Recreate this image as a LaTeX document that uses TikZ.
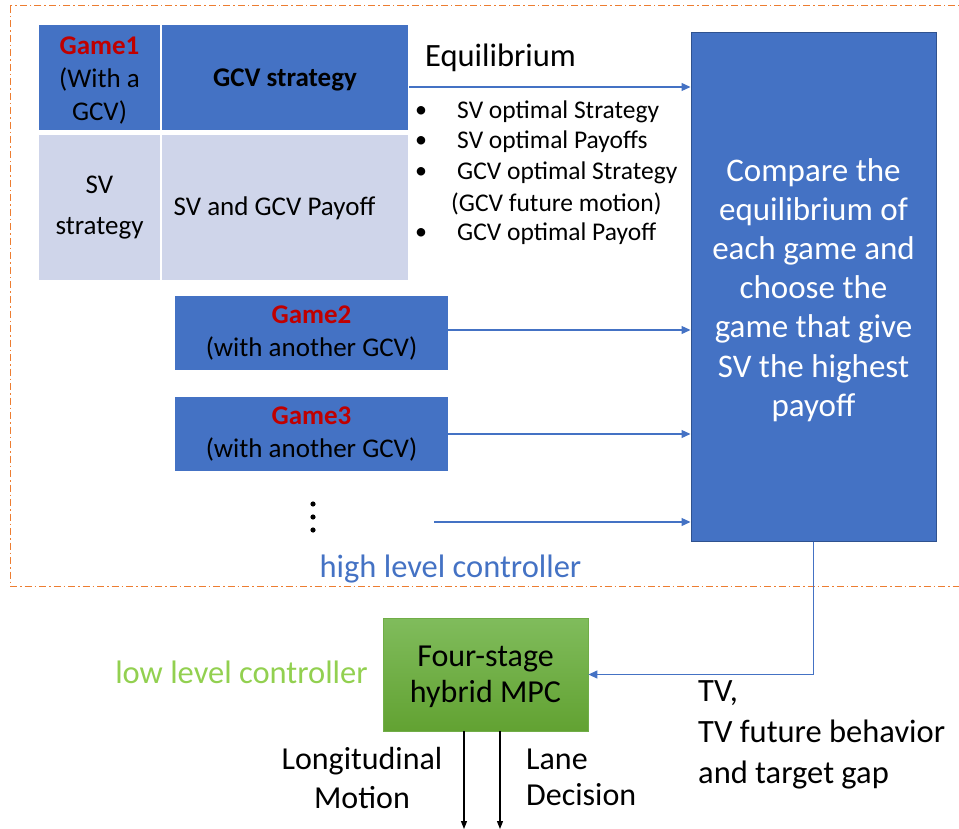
\documentclass[tikz,border=0pt]{standalone}
\usepackage{fontspec}
\setmainfont{Carlito}
\usetikzlibrary{arrows.meta,calc}
\definecolor{oblue}{RGB}{68,114,196}
\definecolor{dblue}{RGB}{47,82,143}
\definecolor{lblue}{RGB}{207,213,234}
\definecolor{ored}{RGB}{192,0,0}
\definecolor{oorange}{RGB}{237,125,49}
\definecolor{ogreen}{RGB}{146,208,80}
\definecolor{gtop}{RGB}{128,188,92}
\definecolor{gbot}{RGB}{98,162,50}
\definecolor{gborder}{RGB}{112,173,71}
\tikzset{
  cellh/.style={fill=oblue, draw=white, line width=1.2pt, inner sep=0pt, align=center, font=\fontsize{27}{33}\selectfont},
  celll/.style={fill=lblue, draw=white, line width=1.2pt, inner sep=0pt, align=center, font=\fontsize{27}{41}\selectfont},
  gamebox/.style={fill=oblue, draw=none, inner sep=0pt, align=center, minimum width=273pt, minimum height=74pt, font=\fontsize{27}{33}\selectfont},
  bluearrow/.style={draw=oblue, line width=1.3pt, -{Triangle[length=9pt,width=8pt]}},
  blackarrow/.style={draw=black, line width=1.3pt, -{Triangle[length=8pt,width=6pt]}},
  lbl/.style={inner sep=0pt, font=\fontsize{32.5}{40}\selectfont},
  itemtxt/.style={inner sep=0pt, anchor=west, font=\fontsize{25.5}{30}\selectfont},
}
\begin{document}
\begin{tikzpicture}[x=1pt,y=-1pt]
\useasboundingbox (0,0) rectangle (959,829);
\clip (0,0) rectangle (959,829);
% dashed frame
\draw[oorange, line width=1pt, dash pattern=on 7pt off 3pt on 1.5pt off 3pt] (10,6) rectangle (990,586);
% table
\node[cellh, minimum width=123pt, minimum height=107pt] (g1) at (99.5,77.5) {};
\node[inner sep=0pt, align=center, font=\fontsize{27}{33}\selectfont] (g1t) at (99.5,80.5) {\textbf{\textcolor{ored}{Game1}}\\(With a\\GCV)};
\node[cellh, minimum width=247pt, minimum height=107pt] (gcv) at (285,77.5) {};
\node[inner sep=0pt, font=\fontsize{27}{32}\selectfont\bfseries] (gcvt) at (285,80) {GCV strategy};
\node[celll, minimum width=123pt, minimum height=146pt] (svs) at (99.5,207.5) {SV\\strategy};
\node[celll, minimum width=247pt, minimum height=146pt] (pay) at (285,207.5) {};
\node[inner sep=0pt, font=\fontsize{27}{32}\selectfont] (payt) at (274.5,208) {SV and GCV Payoff};
% big box
\node[fill=oblue, draw=dblue, line width=1pt, minimum width=245pt, minimum height=508pt, inner sep=0pt] (big) at (813.5,287) {};
\node[text=white, align=center, inner sep=0pt, font=\fontsize{33}{39.2}\selectfont] (bigt) at (813.5,290) {Compare the\\equilibrium of\\each game and\\choose the\\game that give\\SV the highest\\payoff};
% equilibrium
\node[lbl, anchor=west] (eq) at (425,58) {Equilibrium};
\coordinate (eqs) at (409,87);
\draw[bluearrow] (eqs) -- (eqs -| big.west);
\foreach \yy/\tt/\nm in {112/SV optimal Strategy/i1, 142/SV optimal Payoffs/i2, 173/GCV optimal Strategy/i3, 234/GCV optimal Payoff/i5}{
  \node[inner sep=0pt, font=\fontsize{24}{28}\selectfont] (b\nm) at (421,\yy) {\textbullet};
  \node[itemtxt] (\nm) at (457,\yy) {\tt};
}
\node[itemtxt] (i4) at (451,204) {(GCV future motion)};
% games 2,3
\node[gamebox] (g2) at (311.5,333) {\textbf{\textcolor{ored}{Game2}}\\(with another GCV)};
\node[gamebox] (g3) at (311.5,434) {\textbf{\textcolor{ored}{Game3}}\\(with another GCV)};
\draw[bluearrow] ([yshift=3pt]g2.east) -- ([yshift=3pt]g2.east -| big.west);
\draw[bluearrow] (g3.east) -- (g3.east -| big.west);
% dots
\foreach \yy/\nm in {504/d1,517/d2,530/d3}{\fill (313,\yy) circle (2.6pt);}
\coordinate (ds) at (434,522);
\draw[bluearrow] (ds) -- (ds -| big.west);
\node[lbl, text=oblue] (hlc) at (450.5,569) {high level controller};
% low level
\node[top color=gtop, bottom color=gbot, draw=gborder, line width=0.8pt, minimum width=205pt, minimum height=113pt, inner sep=0pt] (mpc) at (485.5,674.5) {};
\node[align=center, inner sep=0pt, font=\fontsize{32}{36}\selectfont] (mpct) at (485.5,677) {Four-stage\\hybrid MPC};
\node[lbl, text=ogreen] (llc) at (241.5,672) {low level controller};
\draw[bluearrow] (big.south) |- (mpc.east);
\node[align=left, anchor=west, inner sep=0pt, font=\fontsize{32.5}{41}\selectfont] (tv) at (698,735) {TV,\\TV future behavior\\and target gap};
% outputs
\coordinate (lo) at (464,829);
\coordinate (la) at (500,829);
\draw[blackarrow] (mpc.south -| lo) -- (lo);
\draw[blackarrow] (mpc.south -| la) -- (la);
\node[align=center, inner sep=0pt, font=\fontsize{32}{39}\selectfont] (lm) at (362,778) {Longitudinal\\Motion};
\node[align=left, anchor=west, inner sep=0pt, font=\fontsize{32}{36}\selectfont] (ld) at (526,777) {Lane\\Decision};
\end{tikzpicture}
\end{document}
